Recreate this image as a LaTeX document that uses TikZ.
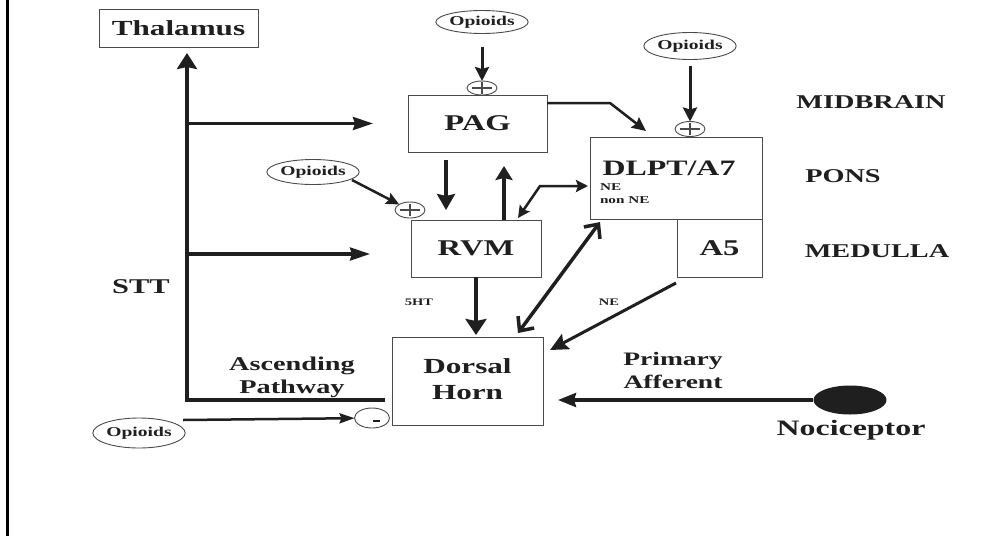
\documentclass[tikz,border=0pt]{standalone}
\usepackage{graphicx}
\usepackage{fontspec}
\setmainfont{Liberation Serif}
\usetikzlibrary{arrows.meta,shapes.geometric,calc}
\definecolor{ink}{HTML}{1F1F1F}
\definecolor{boxc}{HTML}{4A4A4A}
% wide bold text: size, text
\newcommand\wt[2]{\scalebox{1.45}[1]{\fontsize{#1}{#1}\selectfont\bfseries #2}}
% wide bold two-line text: size, line spacing, lines
\newcommand\wtt[3]{\scalebox{1.45}[1]{\fontsize{#1}{#2}\selectfont\bfseries\begin{tabular}{@{}c@{}}#3\end{tabular}}}
\begin{document}
\begin{tikzpicture}[x=1pt,y=-1pt,
  box/.style={draw=boxc, line width=1pt, inner sep=0pt, outer sep=0pt, text=ink},
  lab/.style={inner sep=0pt, outer sep=0pt, text=ink},
  opi/.style={ellipse, draw=boxc, line width=0.9pt, inner sep=0pt, outer sep=0pt,
              minimum width=72pt, minimum height=25pt, text=ink},
  sign/.style={ellipse, draw=boxc, line width=0.9pt, inner sep=0pt, outer sep=0pt},
  signline/.style={draw=boxc, line width=1.1pt}]
\useasboundingbox (0,0) rectangle (1003,536);
\fill[white] (0,0) rectangle (1003,536);
% page frame edge
\draw[black, line width=3pt] (7,0) -- (7,536);

% boxes
\node[box, minimum width=159pt, minimum height=38pt] (thal) at (178.5,28) {\wt{21.5}{Thalamus}};
\node[box, minimum width=139pt, minimum height=57pt] (pag) at (477.5,123.5) {\wt{22.5}{PAG}};
\node[box, minimum width=130pt, minimum height=57pt] (rvm) at (476,248.5) {\wt{22.5}{RVM}};
\node[box, minimum width=172pt, minimum height=82pt] (dlpt) at (676,178) {};
\node[box, minimum width=85pt, minimum height=58pt] (a5) at (719.5,248) {\wt{22.5}{A5}};
\node[box, minimum width=151pt, minimum height=88pt] (dh) at (467.5,381) {\wtt{21.5}{26}{Dorsal\\Horn}};
\node[lab, anchor=base] (dlptt) at (669,175) {\wt{22}{DLPT/A7}};
\node[lab, anchor=base west] (ne1) at (600,190) {\wt{10.5}{NE}};
\node[lab, anchor=base west] (ne2) at (600,203) {\wt{10.5}{non NE}};

% opioid inputs
\node[opi, minimum height=23pt] (o1) at (482,22) {\wt{13.5}{Opioids}};
\node[opi, minimum height=27pt] (o2) at (690,46) {\wt{13.5}{Opioids}};
\node[opi] (o3) at (313,172) {\wt{13.5}{Opioids}};
\node[opi, minimum width=70pt, minimum height=30pt] (o4) at (139,433) {\wt{13.5}{Opioids}};

% plus / minus marks
\node[sign, minimum width=30pt, minimum height=14pt] (p1) at (482,88) {};
\node[sign, minimum width=30pt, minimum height=15pt] (p2) at (690,129) {};
\node[sign, minimum width=30pt, minimum height=16pt] (p3) at (410,210) {};
\node[sign, minimum width=35pt, minimum height=20pt] (m) at (372,418) {};
\foreach \p in {p1,p2,p3}{
  \draw[signline] ($(\p)+(-10,0)$) -- ($(\p)+(10,0)$) ($(\p)+(0,-6)$) -- ($(\p)+(0,6)$);
}
\draw[ink, line width=2pt] ($(m)+(1,3)$) -- ($(m)+(8,3)$);

% nociceptor
\node[ellipse, fill=ink, inner sep=0pt, minimum width=73pt, minimum height=29pt] (noc) at (850,400) {};

% labels
\node[lab, anchor=base] (stt) at (141,293) {\wt{21}{STT}};
\node[lab] (asc) at (292,377) {\wtt{19.5}{23}{Ascending\\Pathway}};
\node[lab] (prim) at (673,372) {\wtt{19}{23}{Primary\\Afferent}};
\node[lab, anchor=base] (nocl) at (851,435) {\wt{22}{Nociceptor}};
\node[lab, anchor=base] (mid) at (871,108) {\wt{19.5}{MIDBRAIN}};
\node[lab, anchor=base] (pons) at (843,182) {\wt{19.5}{PONS}};
\node[lab, anchor=base] (med) at (877,257) {\wt{19.5}{MEDULLA}};
\node[lab, anchor=base] (ht) at (419,305) {\wt{10}{5HT}};
\node[lab, anchor=base] (ne3) at (609,305) {\wt{10}{NE}};

% spinothalamic tract
\coordinate (corner) at (187,400);
\draw[ink, line width=4.3pt, line join=miter, -{Stealth[length=16pt,width=20pt,inset=2pt]}, shorten >=6pt]
  ($(dh.west|-corner)+(-7,0)$) -- (corner) -- (corner |- thal.south);
\draw[ink, line width=3.3pt, -{Stealth[length=20pt,width=13pt,inset=2pt]}, shorten >=35pt]
  (corner |- pag.west) -- (pag.west);
\coordinate (b2) at (187,254);
\draw[ink, line width=3.3pt, -{Stealth[length=20pt,width=13pt,inset=2pt]}, shorten >=41pt]
  (b2) -- (b2 -| rvm.west);

% opioid arrows
\draw[ink, line width=3pt, -{Stealth[length=14pt,width=14pt,inset=2pt]}, shorten <=13pt] (o1.south) -- (p1.north);
\draw[ink, line width=3pt, -{Stealth[length=14pt,width=14pt,inset=2pt]}, shorten <=6pt] (o2.south) -- (p2.north);
\draw[ink, line width=2.5pt, -{Stealth[length=13pt,width=12pt,inset=2pt]}] ($(o3)+(39,8)$) -- (p3);
\draw[ink, line width=2.5pt, -{Stealth[length=15pt,width=10pt,inset=2pt]}] ($(o4)+(44,-13)$) -- (m);

% descending pathways
\coordinate (xa) at (446,0);
\coordinate (xb) at (504,0);
\draw[ink, line width=4pt, -{Stealth[length=16pt,width=18pt,inset=2pt]}, shorten <=8pt, shorten >=10pt]
  (pag.south -| xa) -- (rvm.north -| xa);
\draw[ink, line width=4pt, -{Stealth[length=14pt,width=17pt,inset=2pt]}, shorten >=14pt]
  (rvm.north -| xb) -- (pag.south -| xb);
\draw[ink, line width=4.2pt, -{Stealth[length=16pt,width=21pt,inset=2pt]}, shorten >=2pt]
  (rvm.south) -- (rvm.south |- dh.north);
\coordinate (k1) at (610,103);
\draw[ink, line width=2.5pt, line join=miter, -{Stealth[length=14pt,width=13pt,inset=2pt]}]
  (pag.east |- k1) -- (k1) -- ($(dlpt.north west)+(56,-6)$);
\coordinate (k2) at (540,186);
\draw[ink, line width=2.5pt, line join=miter, {Stealth[length=12pt,width=12pt,inset=2pt]}-{Stealth[length=12pt,width=12pt,inset=2pt]}, shorten >=2pt]
  ($(rvm.north east)+(-23,-2)$) -- (k2) -- (dlpt.west |- k2);
\draw[ink, line width=3.5pt, {Straight Barb[length=11pt,width=20pt]}-{Straight Barb[length=11pt,width=20pt]}]
  ($(dh.north east)+(-25,-4)$) -- ($(dlpt.south west)+(10,3)$);
\draw[ink, line width=3pt, -{Stealth[length=18pt,width=17pt,inset=3pt]}]
  ($(a5.south west)+(-1,6)$) -- ($(dh.north east)+(7,13)$);

% primary afferent
\draw[ink, line width=3.5pt, -{Stealth[length=18pt,width=14pt,inset=2pt]}, shorten >=15pt]
  (noc.west) -- (noc.west -| dh.east);
\end{tikzpicture}
\end{document}
